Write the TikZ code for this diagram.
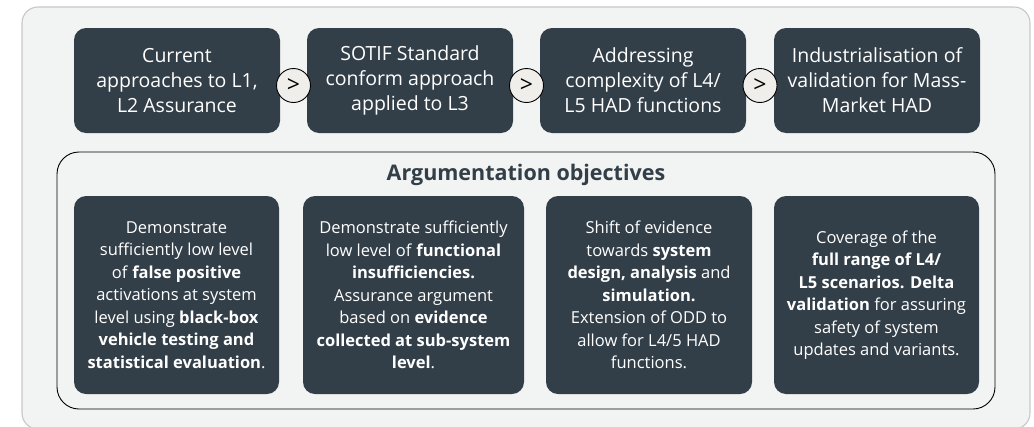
\documentclass[tikz,border=0pt]{standalone}
\usepackage{fontspec}
\setmainfont{Open Sans}
\usetikzlibrary{calc}
\newcommand{\SW}{206}
\newcommand{\SH}{105}
\newcommand{\GH}{198}
\definecolor{adslate}{HTML}{333F48}
\definecolor{adpanel}{HTML}{F2F3F3}
\definecolor{adrim}{HTML}{C6C8C8}
\definecolor{adchip}{HTML}{EFEEEA}

\begin{document}
\begin{tikzpicture}[
    x=1pt, y=-1pt,
    panel/.style={draw=adrim, fill=adpanel, line width=1.1pt, rounded corners=16pt},
    frame/.style={draw=black, line width=0.9pt, rounded corners=22pt},
    stage/.style={rectangle, rounded corners=12pt, fill=adslate, text=white, align=center,
                  inner sep=0pt, minimum width=\SW pt, minimum height=\SH pt,
                  font=\fontsize{19.5}{25}\selectfont},
    goal/.style={rectangle, rounded corners=12pt, fill=adslate, text=white, align=center,
                 inner sep=0pt, minimum height=\GH pt, font=\fontsize{16.5}{22.5}\selectfont},
    nxt/.style={circle, draw=black, fill=adchip, line width=0.9pt, minimum size=34pt,
                inner sep=0pt, font=\fontsize{23}{23}\selectfont},
    tag/.style={text=adslate, font=\bfseries\fontsize{21.5}{24}\selectfont},
  ]
  \useasboundingbox (0,0) rectangle (1034,426);

  % grey backdrop and the objectives frame
  \draw[panel] (22,7) rectangle (1030,429);
  \draw[frame] (57,152) rectangle (995,409);

  % stages of the roadmap
  \node[stage] (s1) at (177,80.5) {Current\\approaches to L1,\\L2 Assurance};
  \node[stage] (s2) at (410,80.5) {SOTIF Standard\\conform approach\\applied to L3};
  \node[stage] (s3) at (643,80.5) {Addressing\\complexity of L4/\\L5 HAD functions};
  \node[stage] (s4) at (877,80.5) {Industrialisation of\\validation for Mass-\\Market HAD};

  \foreach \a/\b in {1/2,2/3,3/4} {
    \node[nxt, yshift=-5pt] (n\a) at ($(s\a.east)!0.5!(s\b.west)$) {>};
  }

  \node[tag] (head) at (526,175) {Argumentation objectives};

  % objective per stage
  \node[goal, minimum width=205pt] (g1) at (176.5,295)
    {Demonstrate\\sufficiently low level\\of \textbf{false positive}\\activations at system\\level using \textbf{black-box}\\\textbf{vehicle testing and}\\\textbf{statistical evaluation}.};
  \node[goal, minimum width=221pt] (g2) at (413.5,295)
    {Demonstrate sufficiently\\low level of \textbf{functional}\\\textbf{insufficiencies.}\\Assurance argument\\based on \textbf{evidence}\\\textbf{collected at sub-system}\\\textbf{level}.};
  \node[goal, minimum width=206pt] (g3) at (649,295)
    {Shift of evidence\\towards \textbf{system}\\\textbf{design, analysis} and\\\textbf{simulation.}\\Extension of ODD to\\allow for L4/5 HAD\\functions.};
  \node[goal, minimum width=205pt] (g4) at (876.5,295)
    {Coverage of the\\\textbf{full range of L4/}\\\textbf{L5 scenarios. Delta}\\\textbf{validation} for assuring\\safety of system\\updates and variants.};

\end{tikzpicture}
\end{document}
